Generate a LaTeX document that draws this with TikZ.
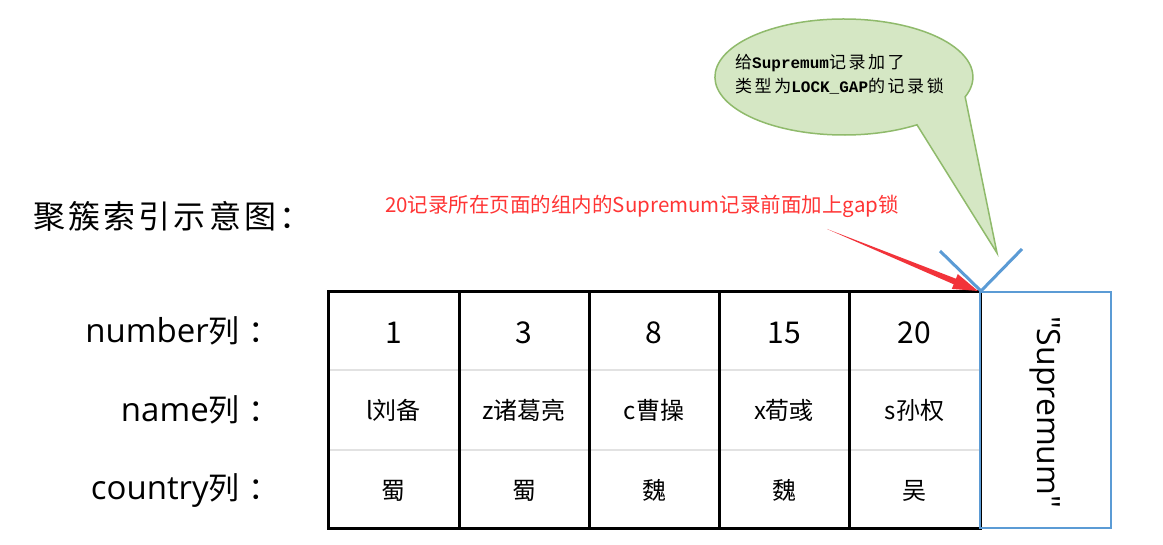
\documentclass[tikz,border=0pt]{standalone}
\usepackage{fontspec}
\setmainfont{Noto Sans CJK SC}
\newfontfamily\monofont{Liberation Mono}
\newfontfamily\osans{Open Sans}
\newfontfamily\cjkwide[LetterSpace=15]{Noto Sans CJK SC}
\newfontfamily\cjktitle[LetterSpace=10]{Noto Sans CJK SC}
\definecolor{redtxt}{HTML}{FF3535}
\definecolor{redarrow}{HTML}{F2333A}
\definecolor{bubblefill}{HTML}{D5E7C4}
\definecolor{bubbleline}{HTML}{8FBA6B}
\definecolor{supblue}{HTML}{5B9BD5}
\definecolor{sepgray}{HTML}{E2E2E2}
\tikzset{
  tbl/.style={line width=3pt, black},
  rowsep/.style={line width=2.5pt, sepgray},
  supbox/.style={line width=2.5pt, supblue},
  vline/.style={line width=3pt, supblue},
  bigtxt/.style={font=\fontsize{30}{36}\selectfont, inner sep=0pt, anchor=base},
  midtxt/.style={font=\fontsize{24}{29}\selectfont, inner sep=0pt, anchor=base},
  lbltxt/.style={font=\fontsize{31}{36}\selectfont, inner sep=0pt, anchor=base east},
  bubble/.style={fill=bubblefill, draw=bubbleline, line width=1.5pt},
}
\newcommand{\lat}[1]{{\osans\fontsize{33}{36}\selectfont #1}}
\newcommand{\lcolon}{\kern9pt：}
\begin{document}
\begin{tikzpicture}[x=1pt,y=-1pt]
\useasboundingbox (0,0) rectangle (1163,545);
\fill[white] (0,0) rectangle (1163,545);

% title
\node[inner sep=0pt, anchor=base west, font=\fontsize{32}{38}\cjktitle] (title) at (33,229) {聚簇索引示意图：};

% callout bubble
\path[bubble] (997,253) -- (917,124.8)
  arc[start angle=55.5, end angle=380, x radius=129, y radius=58] -- cycle;
\node[inner sep=0pt, anchor=base west, font=\fontsize{17}{20}\selectfont] (bl1) at (735,69)
  {{\cjkwide 给}{\monofont\bfseries\fontsize{16}{20}\selectfont Supremum}{\cjkwide 记录加了}};
\node[inner sep=0pt, anchor=base west, font=\fontsize{17}{20}\selectfont] (bl2) at (735,93)
  {{\cjkwide 类型为}{\monofont\bfseries\fontsize{16}{20}\selectfont LOCK\_GAP}{\cjkwide 的记录锁}};

% red note
\node[inner sep=0pt, anchor=base west, text=redtxt, font=\fontsize{20.5}{24}\selectfont] (note) at (385,213)
  {20记录所在页面的组内的Supremum记录前面加上gap锁};

% row separators
\draw[rowsep] (328,370) -- (980,370);
\draw[rowsep] (328,450) -- (980,450);
% table frame
\draw[tbl] (328,292) rectangle (980,528);
\foreach \x in {459,589,719,849} \draw[tbl] (\x,292) -- (\x,528);
% supremum box
\draw[supbox] (980,292) rectangle (1111,528);
\node[rotate=-90, inner sep=0pt, font=\osans\fontsize{32}{36}\selectfont] (sup) at (1045,412) {"Supremum"};

% blue V
\coordinate (vtip) at (981,291);
\coordinate (vl) at (940,251);
\coordinate (vr) at (1022,249);
\draw[vline] (vl) -- (vtip) -- (vr);

% red arrow
\coordinate (atail) at (827,229);
\coordinate (ahead) at (978,291);
\fill[redarrow] (atail) -- (955.9,278.7) -- (957.8,274.1) -- (ahead) -- (951.8,288.9) -- (953.7,284.3) -- cycle;

% row labels
\node[lbltxt] (lnum) at (280,343) {\lat{number}列\lcolon};
\node[lbltxt] (lname) at (280,421) {\lat{name}列\lcolon};
\node[lbltxt] (lctry) at (280,500) {\lat{country}列\lcolon};

% cell contents
\foreach \x/\n/\nm/\c [count=\i] in {393.5/1/l刘备/蜀, 524/3/z诸葛亮/蜀, 654/8/c曹操/魏, 784/15/x荀彧/魏, 914.5/20/s孙权/吴} {
  \node[bigtxt] (num\i) at (\x,344) {\n};
  \node[midtxt] (nm\i) at (\x,420) {\nm};
  \node[midtxt] (ct\i) at (\x,500) {\c};
}
\end{tikzpicture}
\end{document}
